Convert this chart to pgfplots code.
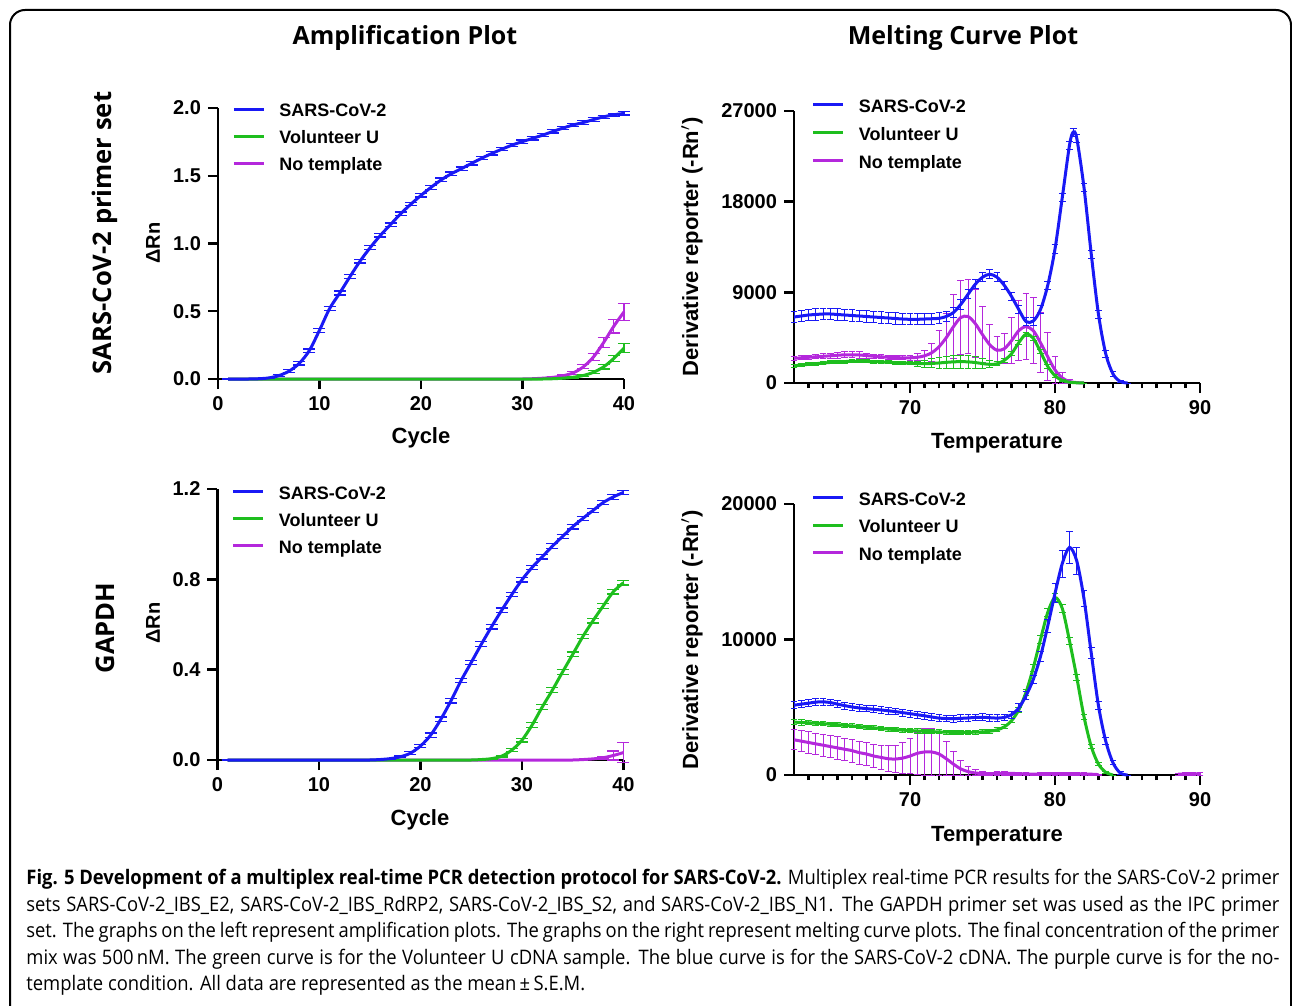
\documentclass[border=0pt]{standalone}
\usepackage{pgfplots}
\pgfplotsset{compat=1.18}
\usepackage{pgfplotstable}
\usepackage{fontspec}
\setmainfont{Liberation Sans}
\newfontfamily\osans{Open Sans}
\newfontfamily\capfont{Open Sans}[FakeStretch=0.92]

\definecolor{cblue}{RGB}{25,25,245}
\definecolor{cgreen}{RGB}{30,190,30}
\definecolor{cpurple}{RGB}{180,40,220}

\pgfplotstableread{
c b be g ge p pe
1 0 0 0 0 0 0
2 0 0 0 0 0 0
3 0 0 0 0 0 0
4 0.002 0.001 0 0 0 0
5 0.008 0.003 0 0 0 0
6 0.025 0.006 0 0 0 0
7 0.058 0.01 0 0 0 0
8 0.115 0.012 0 0 0 0
9 0.21 0.012 0 0 0 0
10 0.36 0.014 0 0 0 0
11 0.52 0.015 0 0 0 0
12 0.635 0.015 0 0 0 0
13 0.755 0.015 0 0 0 0
14 0.87 0.014 0 0 0 0
15 0.97 0.013 0 0 0 0
16 1.06 0.012 0 0 0 0
17 1.14 0.012 0 0 0 0
18 1.22 0.012 0 0 0 0
19 1.29 0.012 0 0 0 0
20 1.355 0.012 0 0 0 0
21 1.415 0.014 0 0 0 0
22 1.47 0.014 0 0 0 0
23 1.515 0.012 0 0 0 0
24 1.553 0.012 0 0 0 0
25 1.592 0.012 0 0 0 0
26 1.63 0.012 0 0 0 0
27 1.665 0.012 0 0 0 0
28 1.697 0.012 0 0 0 0
29 1.727 0.012 0 0 0 0
30 1.752 0.012 0 0 0 0
31 1.776 0.012 0 0 0.002 0.001
32 1.80 0.012 0 0 0.006 0.002
33 1.827 0.012 0.002 0.001 0.012 0.003
34 1.852 0.012 0.006 0.003 0.024 0.005
35 1.875 0.012 0.013 0.005 0.045 0.009
36 1.893 0.012 0.026 0.007 0.09 0.015
37 1.915 0.012 0.05 0.01 0.163 0.024
38 1.935 0.012 0.09 0.016 0.27 0.038
39 1.95 0.012 0.152 0.022 0.39 0.05
40 1.96 0.012 0.228 0.032 0.495 0.065
}\tA

\pgfplotstableread{
c b be g ge p pe
1 0 0 0 0 0 0
2 0 0 0 0 0 0
3 0 0 0 0 0 0
4 0 0 0 0 0 0
5 0 0 0 0 0 0
6 0 0 0 0 0 0
7 0 0 0 0 0 0
8 0 0 0 0 0 0
9 0 0 0 0 0 0
10 0 0 0 0 0 0
11 0 0 0 0 0 0
12 0 0 0 0 0 0
13 0 0 0 0 0 0
14 0 0 0 0 0 0
15 0 0 0 0 0 0
16 0.002 0.001 0 0 0 0
17 0.006 0.002 0 0 0 0
18 0.014 0.004 0 0 0 0
19 0.03 0.006 0 0 0 0
20 0.062 0.008 0 0 0 0
21 0.11 0.01 0 0 0 0
22 0.18 0.01 0 0 0 0
23 0.262 0.01 0 0 0 0
24 0.352 0.01 0 0 0 0
25 0.432 0.01 0 0 0 0
26 0.513 0.01 0.002 0.001 0 0
27 0.59 0.01 0.006 0.002 0 0
28 0.663 0.01 0.017 0.004 0 0
29 0.733 0.01 0.044 0.006 0 0
30 0.798 0.01 0.088 0.008 0 0
31 0.853 0.01 0.155 0.01 0 0
32 0.9 0.01 0.235 0.01 0 0
33 0.947 0.01 0.31 0.01 0 0
34 0.99 0.01 0.39 0.01 0 0
35 1.033 0.01 0.468 0.01 0 0
36 1.07 0.01 0.547 0.01 0.002 0.001
37 1.105 0.01 0.617 0.01 0.005 0.003
38 1.14 0.01 0.682 0.01 0.01 0.006
39 1.165 0.01 0.745 0.01 0.02 0.02
40 1.185 0.01 0.785 0.01 0.033 0.045
}\tC

\pgfplotstableread{
T y e
62 6550 550
62.5 6650 550
63 6750 550
63.5 6800 550
64 6850 550
64.5 6850 550
65 6800 550
65.5 6750 550
66 6700 550
66.5 6650 550
67 6600 550
67.5 6550 550
68 6500 550
68.5 6450 550
69 6400 550
69.5 6350 550
70 6320 550
70.5 6320 550
71 6350 550
71.5 6380 550
72 6420 550
72.5 6600 500
73 7000 500
73.5 7800 500
74 8800 450
74.5 9800 450
75 10500 450
75.5 10800 450
76 10500 450
76.5 9700 400
77 8600 400
77.5 7300 400
78 6100 400
78.5 6150 400
79 7300 400
79.5 9700 400
80 13300 400
80.5 18400 400
81 23600 400
81.25 24900 400
81.5 24300 400
82 19400 400
82.5 12800 400
83 6800 400
83.5 2900 350
84 900 250
84.5 150 100
85 0 0
}\tBb

\pgfplotstableread{
T y e
62 1700 150
62.5 1780 150
63 1850 150
63.5 1920 150
64 1980 150
64.5 2040 150
65 2090 150
65.5 2130 150
66 2150 150
66.5 2150 150
67 2140 150
67.5 2120 150
68 2100 150
68.5 2060 150
69 2020 150
69.5 1980 150
70 1950 150
70.5 1930 250
71 1920 350
71.5 1940 450
72 1990 550
72.5 2050 600
73 2100 650
73.5 2120 650
74 2100 650
74.5 2030 600
75 1930 500
75.5 1850 350
76 1900 200
76.5 2250 200
77 2900 200
77.5 4000 200
78 4850 200
78.5 4450 200
79 3100 200
79.5 1650 200
80 720 150
80.5 250 80
81 80 40
81.5 20 20
82 0 0
}\tBg

\pgfplotstableread{
T y e
62 2450 200
62.5 2500 200
63 2550 200
63.5 2600 200
64 2650 250
64.5 2700 250
65 2750 300
65.5 2800 300
66 2800 300
66.5 2780 300
67 2720 250
67.5 2650 200
68 2600 200
68.5 2550 200
69 2520 200
69.5 2500 200
70 2500 250
70.5 2550 350
71 2700 500
71.5 3000 900
72 3600 1600
72.5 4500 2400
73 5600 3200
73.5 6500 3700
74 6600 3700
74.5 5900 3400
75 4800 2800
75.5 3800 2000
76 3250 1400
76.5 3400 1500
77 4200 2300
77.5 5200 3000
78 5600 3300
78.5 5200 3300
79 4000 3000
79.5 2600 2400
80 1300 1300
80.5 500 500
81 150 150
81.5 40 40
82 0 0
}\tBp

\pgfplotstableread{
T y e
62 5150 250
62.5 5230 250
63 5300 250
63.5 5380 250
64 5400 250
64.5 5350 250
65 5230 250
65.5 5120 250
66 5020 250
66.5 4950 250
67 4900 250
67.5 4850 250
68 4800 250
68.5 4740 250
69 4680 250
69.5 4600 250
70 4530 250
70.5 4450 250
71 4370 250
71.5 4280 250
72 4200 250
72.5 4170 250
73 4160 250
73.5 4180 250
74 4210 250
74.5 4250 250
75 4260 250
75.5 4230 250
76 4200 250
76.5 4250 250
77 4450 250
77.5 4950 300
78 5850 300
78.5 7050 300
79 8750 400
79.5 11000 500
80 13400 700
80.5 15600 1000
81 16800 1200
81.5 15800 1000
82 13000 600
82.5 9000 400
83 5100 300
83.5 2500 250
84 900 150
84.5 150 80
85 0 0
}\tDb

\pgfplotstableread{
T y e
62 3900 200
62.5 3880 200
63 3850 150
63.5 3820 150
64 3790 150
64.5 3750 150
65 3710 150
65.5 3660 150
66 3620 150
66.5 3570 150
67 3520 150
67.5 3480 150
68 3430 150
68.5 3390 150
69 3350 150
69.5 3310 150
70 3280 150
70.5 3250 150
71 3220 150
71.5 3200 150
72 3180 150
72.5 3160 150
73 3150 150
73.5 3150 150
74 3150 150
74.5 3160 150
75 3180 150
75.5 3230 150
76 3330 150
76.5 3550 150
77 4000 150
77.5 4800 200
78 6100 200
78.5 7900 250
79 10000 300
79.5 12000 300
80 13100 300
80.5 12300 300
81 9900 250
81.5 7200 200
82 4300 200
82.5 2100 150
83 800 100
83.5 200 60
84 0 0
}\tDg

\pgfplotstableread{
T y ep em
62 2600 750 750
62.5 2500 750 750
63 2400 780 780
63.5 2300 780 780
64 2200 800 800
64.5 2100 800 800
65 2000 820 820
65.5 1900 820 820
66 1800 850 850
66.5 1650 850 850
67 1550 870 870
67.5 1400 870 870
68 1300 900 900
68.5 1200 950 950
69 1180 1000 1000
69.5 1250 1150 1150
70 1400 1300 1300
70.5 1600 1550 1550
71 1700 1750 1700
71.5 1700 1750 1700
72 1550 1600 1550
72.5 1200 1300 1200
73 800 900 800
73.5 450 600 450
74 250 400 250
74.5 150 250 150
75 100 150 100
75.5 100 120 100
76 110 120 110
76.5 120 120 120
77 120 100 120
77.5 100 100 100
78 80 80 80
78.5 70 70 70
79 80 80 80
79.5 100 100 100
80 110 100 110
80.5 110 100 110
81 100 100 100
81.5 90 90 90
82 80 80 80
82.5 60 60 60
83 30 30 30
83.5 nan nan nan
84 nan nan nan
85 nan nan nan
86 nan nan nan
87 nan nan nan
88 nan nan nan
88.5 60 60 60
89 80 80 80
89.5 90 90 90
90 90 90 90
}\tDp

\pgfplotsset{
  panel/.style={
    scale only axis, axis lines=left,
    axis line style={line width=1.4pt,-},
    tick style={black, line width=1.2pt},
    tick align=outside, major tick length=5pt, minor tick length=2.5pt,
    clip=false,
    tick label style={font=\bfseries\fontsize{10}{12}\selectfont},
    /pgf/number format/assume math mode=true,
    legend cell align=left, reverse legend,
    legend style={draw=none, fill=none, anchor=north west, inner sep=0pt,
      font=\bfseries\fontsize{9}{11}\selectfont, row sep=4.5pt, column sep=7pt,
      nodes={inner sep=0pt, text height=7pt, text depth=2pt}},
    legend image code/.code={\draw[##1, line width=1.5pt] (0pt,1.2pt) -- (15pt,1.2pt);},
  },
  amp/.style={panel, width=203pt, height=135.5pt, xmin=0, xmax=40,
    xtick={0,10,20,30,40}},
  melt/.style={panel, width=203pt, height=135.5pt, xmin=62, xmax=90,
    xtick={70,80,90}, minor xtick={63,64,...,89},
    scaled y ticks=false,
    yticklabel style={/pgf/number format/.cd, fixed, 1000 sep={}}},
  ser/.style={color=#1, line width=1.5pt, smooth, mark=none,
    unbounded coords=jump,
    error bars/.cd, y dir=both, y explicit,
    error bar style={line width=0.6pt},
    error mark options={rotate=90, mark size=3pt, line width=0.6pt, #1}},
  serm/.style={color=#1, line width=1.5pt, smooth, mark=none,
    unbounded coords=jump,
    error bars/.cd, y dir=both, y explicit,
    error bar style={line width=0.5pt},
    error mark options={rotate=90, mark size=1.7pt, line width=0.5pt, #1}},
}

\begin{document}
\begin{tikzpicture}
\useasboundingbox (0pt,0pt) rectangle (646pt,-503pt);
\draw[line width=1pt, rounded corners=7.5pt] (5pt,-520pt) -- (5pt,-5pt) -- (645.5pt,-5pt) -- (645.5pt,-520pt);

% titles
\node[font=\osans\bfseries\fontsize{12.5}{14}\selectfont] at (202.5pt,-19pt) {Amplification Plot};
\node[font=\osans\bfseries\fontsize{12.5}{14}\selectfont] at (481.5pt,-19pt) {Melting Curve Plot};
\node[font=\osans\bfseries\fontsize{12.8}{14}\selectfont, rotate=90] at (52.5pt,-116.5pt) {SARS-CoV-2 primer set};
\node[font=\osans\bfseries\fontsize{12.8}{14}\selectfont, rotate=90] at (52.5pt,-314pt) {GAPDH};

% axis labels
\node[font=\bfseries\fontsize{10}{12}\selectfont, rotate=90] at (76.5pt,-121.5pt) {ΔRn};
\node[font=\bfseries\fontsize{10}{12}\selectfont, rotate=90] at (76.5pt,-311.5pt) {ΔRn};
\node[font=\bfseries\fontsize{11}{13}\selectfont, rotate=90] at (346pt,-123.5pt) {Derivative reporter (-Rn$'$)};
\node[font=\bfseries\fontsize{11}{13}\selectfont, rotate=90] at (346pt,-320pt) {Derivative reporter (-Rn$'$)};
\node[font=\bfseries\fontsize{11}{13}\selectfont] at (210.5pt,-219pt) {Cycle};
\node[font=\bfseries\fontsize{11}{13}\selectfont] at (210pt,-410pt) {Cycle};
\node[font=\bfseries\fontsize{11}{13}\selectfont] at (498.5pt,-221.5pt) {Temperature};
\node[font=\bfseries\fontsize{11}{13}\selectfont] at (498.5pt,-418pt) {Temperature};

% panel 1
\begin{axis}[amp, at={(109pt,-189.5pt)}, anchor=south west,
  ymin=0, ymax=2, ytick={0,0.5,1,1.5,2},
  yticklabel style={/pgf/number format/.cd, fixed, fixed zerofill, precision=1},
  legend style={at={(0.0345,1.02)}}]
\addplot[ser=cpurple] table[x=c, y=p, y error=pe] {\tA}; \addlegendentry{No template}
\addplot[ser=cgreen] table[x=c, y=g, y error=ge] {\tA}; \addlegendentry{Volunteer U}
\addplot[ser=cblue] table[x=c, y=b, y error=be] {\tA}; \addlegendentry{SARS-CoV-2}
\end{axis}

% panel 2
\begin{axis}[melt, at={(397pt,-191.5pt)}, anchor=south west, height=136pt,
  ymin=0, ymax=27000, ytick={0,9000,18000,27000},
  legend style={at={(0.043,1.049)}, row sep=5pt}]
\addplot[serm=cpurple] table[x=T, y=y, y error=e] {\tBp}; \addlegendentry{No template}
\addplot[serm=cgreen] table[x=T, y=y, y error=e] {\tBg}; \addlegendentry{Volunteer U}
\addplot[serm=cblue] table[x=T, y=y, y error=e] {\tBb}; \addlegendentry{SARS-CoV-2}
\end{axis}

% panel 3
\begin{axis}[amp, at={(108.75pt,-380pt)}, anchor=south west,
  ymin=0, ymax=1.2, ytick={0,0.4,0.8,1.2},
  yticklabel style={/pgf/number format/.cd, fixed, fixed zerofill, precision=1},
  legend style={at={(0.0345,1.016)}}]
\addplot[ser=cpurple] table[x=c, y=p, y error=pe] {\tC}; \addlegendentry{No template}
\addplot[ser=cgreen] table[x=c, y=g, y error=ge] {\tC}; \addlegendentry{Volunteer U}
\addplot[ser=cblue] table[x=c, y=b, y error=be] {\tC}; \addlegendentry{SARS-CoV-2}
\end{axis}

% panel 4
\begin{axis}[melt, at={(397pt,-387.5pt)}, anchor=south west,
  ymin=0, ymax=20000, ytick={0,10000,20000},
  legend style={at={(0.043,1.049)}, row sep=4.75pt}]
\addplot[serm=cpurple] table[x=T, y=y, y error plus=ep, y error minus=em] {\tDp}; \addlegendentry{No template}
\addplot[serm=cgreen] table[x=T, y=y, y error=e] {\tDg}; \addlegendentry{Volunteer U}
\addplot[serm=cblue] table[x=T, y=y, y error=e] {\tDb}; \addlegendentry{SARS-CoV-2}
\end{axis}

% caption
\begin{scope}[every node/.style={anchor=base west, inner sep=0pt, font=\capfont\fontsize{10}{12}\selectfont}]
\node at (13pt,-442pt) {\hbox to 626.5pt{{\bfseries Fig. 5 Development of a multiplex real-time PCR detection protocol for SARS-CoV-2.} Multiplex real-time PCR results for the SARS-CoV-2 primer}};
\node at (13pt,-455.5pt) {\hbox to 626.5pt{sets SARS-CoV-2\_IBS\_E2, SARS-CoV-2\_IBS\_RdRP2, SARS-CoV-2\_IBS\_S2, and SARS-CoV-2\_IBS\_N1. The GAPDH primer set was used as the IPC primer}};
\node at (13pt,-468.5pt) {\hbox to 626.5pt{set. The graphs on the left represent amplification plots. The graphs on the right represent melting curve plots. The final concentration of the primer}};
\node at (13pt,-482pt) {\hbox to 626.5pt{mix was 500\,nM. The green curve is for the Volunteer U cDNA sample. The blue curve is for the SARS-CoV-2 cDNA. The purple curve is for the no-}};
\node at (13pt,-495pt) {template condition. All data are represented as the mean\,±\,S.E.M.};
\end{scope}
\end{tikzpicture}
\end{document}
